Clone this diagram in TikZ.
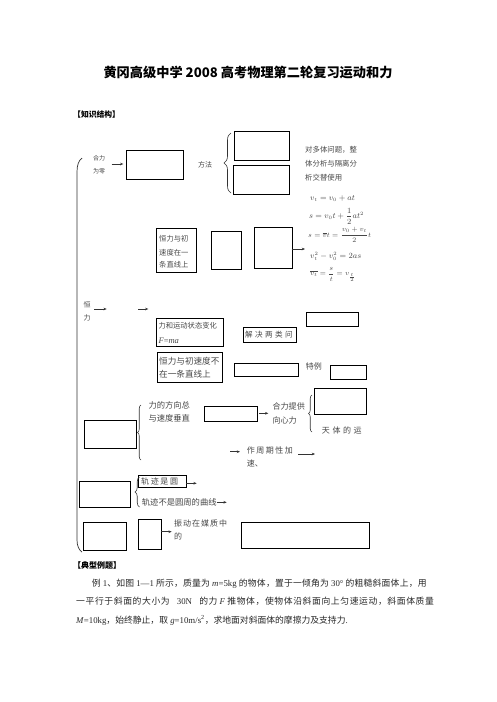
\documentclass[tikz,border=0pt]{standalone}
\usepackage{amsmath}
\usepackage{fontspec}
\setmainfont{Liberation Serif}
\newfontfamily\cjk{Noto Sans CJK SC}
\newfontfamily\cjkw[LetterSpace=7]{Noto Sans CJK SC}
\newfontfamily\cjkv[LetterSpace=2.5]{Noto Sans CJK SC}
\usetikzlibrary{arrows.meta,decorations.pathreplacing}
\newcommand\zh[1]{{\cjk #1}}
\newcommand\zw[1]{{\cjkw #1}}
\newcommand\zv[1]{{\cjkv #1}}
\newcommand\fs[1]{\fontsize{#1}{#1}\selectfont}
\begin{document}
\begin{tikzpicture}[x=1pt,y=-1pt,
  bx/.style={draw, line width=0.7pt, inner sep=0pt},
  txt/.style={anchor=west, inner sep=0pt, text=black!72},
  arr/.style={-{Stealth[length=3.2pt,width=2.6pt]}, line width=0.8pt, black!80},
  brc/.style={decorate, decoration={brace, amplitude=#1}, line width=0.6pt, black!80}]
\useasboundingbox (0,0) rectangle (496,702);

% title
\node[inner sep=0pt, font=\cjk\bfseries\fs{13.2}] (title) at (248,73) {黄冈高级中学 2008 高考物理第二轮复习运动和力};
\node[anchor=west, inner sep=0pt, font=\cjk\bfseries\fs{7.8}] (sec1) at (73,115) {【知识结构】};

% big left bracket
\draw[line width=0.7pt, black!80] (82,158) .. controls (78.5,161) and (77,165) .. (77,172) -- (77,540) .. controls (77,546) and (79,550) .. (82,552);

% boxes
\node[bx, minimum width=57, minimum height=29] (b1) at (154.5,164.5) {};
\node[bx, minimum width=55, minimum height=29] (b2) at (261.5,145.5) {};
\node[bx, minimum width=56, minimum height=29] (b3) at (261,179.5) {};
\node[bx, minimum width=40, minimum height=44] (b4) at (176,250) {};
\node[bx, minimum width=30, minimum height=38] (b5) at (226,250) {};
\node[bx, minimum width=38, minimum height=41] (b6) at (273,247.5) {};
\node[bx, minimum width=67, minimum height=28] (b7) at (189.5,332) {};
\node[bx, minimum width=53, minimum height=15] (b8) at (269.5,334.5) {};
\node[bx, minimum width=52, minimum height=14] (b9) at (332,319) {};
\node[bx, minimum width=65, minimum height=30] (b10) at (189.5,367) {};
\node[bx, minimum width=64, minimum height=13] (b11) at (266,369.5) {};
\node[bx, minimum width=36, minimum height=14] (b12) at (348,372) {};
\node[bx, minimum width=52, minimum height=26] (b13) at (340,401) {};
\node[bx, minimum width=52, minimum height=28] (b14) at (110,434) {};
\node[bx, minimum width=53, minimum height=15] (b15) at (230.5,413.5) {};
\node[bx, minimum width=48, minimum height=12] (b16) at (162,481) {};
\node[bx, minimum width=51, minimum height=26] (b17) at (104.5,494) {};
\node[bx, minimum width=43, minimum height=28] (b18) at (104.5,536) {};
\node[bx, minimum width=23, minimum height=30] (b19) at (149.5,534) {};
\node[bx, minimum width=128, minimum height=26] (b20) at (305,535) {};

% braces
\draw[brc=7pt] (231,193) -- (231,133);
\draw[brc=3.5pt] (141,460) -- (141,405);
\draw[brc=3.5pt] (312,432) -- (312,395);
\draw[brc=4.5pt] (139.5,507) -- (139.5,477);

% texts
\node[txt, font=\cjk\fs{6}] (t1) at (93,158) {合力};
\node[txt, font=\cjk\fs{6}] (t2) at (93,171.7) {为零};
\node[txt, font=\cjk\fs{7}] (t3) at (198,165) {方法};
\node[txt, font=\cjk\fs{7.4}] (t4) at (305,150) {对多体问题，整};
\node[txt, font=\cjk\fs{7.4}] (t5) at (305,164) {体分析与隔离分};
\node[txt, font=\cjk\fs{7.4}] (t6) at (305,177.3) {析交替使用};

\node[txt, font=\fs{7.6}] (f1) at (310,198.3) {$v_t=v_0+at$};
\node[txt, font=\fs{7.6}] (f2) at (309,216.3) {$s=v_0t+\dfrac{1}{2}at^2$};
\node[txt, font=\fs{7.2}] (f3) at (308,235) {$s=\overline{v}t=\dfrac{v_0+v_t}{2}t$};
\node[txt, font=\fs{7.6}] (f4) at (310,256) {$v_t^2-v_0^2=2as$};
\node[txt, font=\fs{7.4}] (f5) at (310,274.5) {$\overline{v_t}=\dfrac{s}{t}=v_{\frac{t}{2}}$};

\node[txt, font=\cjk\fs{7.3}] (t7) at (159,238.3) {恒力与初};
\node[txt, font=\cjk\fs{7.3}] (t8) at (159,252.3) {速度在一};
\node[txt, font=\cjk\fs{7.3}] (t9) at (159,265) {条直线上};

\node[txt, font=\cjk\fs{7}] (t10) at (83.5,305) {恒};
\node[txt, font=\cjk\fs{7}] (t11) at (83.5,318.3) {力};

\node[txt, font=\cjk\fs{7.3}] (t12) at (158.3,326) {力和运动状态变化};
\node[txt, font=\fs{8.5}] (t13) at (158.3,341) {\textit{F}=\textit{ma}};
\node[txt, font=\cjk\fs{7.6}] (t14) at (245,334.5) {解\hspace{2.4pt}决\hspace{2.4pt}两\hspace{2.4pt}类\hspace{2.4pt}问};
\node[txt, font=\cjk\fs{8.6}] (t15) at (159,361.7) {恒力与初速度不};
\node[txt, font=\cjk\fs{8.6}] (t16) at (159,374.3) {在一条直线上};
\node[txt, font=\cjk\fs{8}] (t17) at (305.7,366) {特例};

\node[txt, font=\cjk\fs{8.3}] (t18) at (148.3,405) {力的方向总};
\node[txt, font=\cjk\fs{8.3}] (t19) at (148.3,418.3) {与速度垂直};
\node[txt, font=\cjk\fs{8.1}] (t20) at (272.3,406.7) {合力提供};
\node[txt, font=\cjk\fs{8.1}] (t21) at (272.3,420.7) {向心力};
\node[txt, font=\cjk\fs{8}] (t22) at (321.7,430) {天\hspace{2.6pt}体\hspace{2.6pt}的\hspace{2.6pt}运};
\node[txt, font=\cjk\fs{8}] (t23) at (246.7,450) {作\hspace{1.5pt}周\hspace{1.5pt}期\hspace{1.5pt}性\hspace{1.5pt}加};
\node[txt, font=\cjk\fs{8}] (t24) at (246.7,463.3) {速、};

\node[txt, font=\cjk\fs{8}] (t25) at (141,481) {轨\hspace{1.6pt}迹\hspace{1.6pt}是\hspace{1.6pt}圆};
\node[txt, font=\cjk\fs{8.3}] (t26) at (141.7,502.3) {轨迹不是圆周的曲线};
\node[txt, font=\cjk\fs{8}] (t27) at (174,523.3) {振\hspace{1pt}动\hspace{1pt}在\hspace{1pt}媒\hspace{1pt}质\hspace{1pt}中};
\node[txt, font=\cjk\fs{8}] (t28) at (174,536.7) {的};

% arrows
\coordinate (a1s) at (111.7,164); \coordinate (a1e) at (123.3,164);
\coordinate (a2s) at (291.7,249); \coordinate (a2e) at (305,249);
\coordinate (a3s) at (94.3,309); \coordinate (a3e) at (106.7,309);
\coordinate (a4s) at (138.3,309); \coordinate (a4e) at (148.3,309);
\coordinate (a5s) at (259,413.3); \coordinate (a5e) at (268.3,413.3);
\coordinate (a6s) at (230,451.7); \coordinate (a6e) at (240,451.7);
\coordinate (a7s) at (298.3,454); \coordinate (a7e) at (315,454);
\coordinate (a8s) at (186,483.3); \coordinate (a8e) at (196.7,483.3);
\coordinate (a9s) at (216.7,502.3); \coordinate (a9e) at (226.7,502.3);
\coordinate (a10s) at (161,531.7); \coordinate (a10e) at (171.7,531.7);
\foreach \i in {1,...,10} \draw[arr] (a\i s) -- (a\i e);

% example section
\node[anchor=west, inner sep=0pt, font=\cjk\bfseries\fs{8}] (sec2) at (73,565) {【典型例题】};
\node[anchor=west, inner sep=0pt, font=\fs{8.8}, text=black!85] (p1) at (91.7,583.3)
  {\zv{例} 1\zv{、如图} 1—1 \zv{所示，质量为} \textit{m}=5kg \zv{的物体，置于一倾角为} 30° \zv{的粗糙斜面体上，用}};
\node[anchor=west, inner sep=0pt, font=\fs{8.8}, text=black!85] (p2) at (76,601.7)
  {\zw{一平行于斜面的大小为}\hspace{5pt} 30N \hspace{5pt}\zw{的力} \textit{F} \zw{推物体，使物体沿斜面向上匀速运动，斜面体质量}};
\node[anchor=west, inner sep=0pt, font=\fs{8.8}, text=black!85] (p3) at (76,620)
  {\textit{M}=10kg\zh{，始终静止，取} \textit{g}=10m/s\textsuperscript{2}\zh{，求地面对斜面体的摩擦力及支持力}.};
\end{tikzpicture}
\end{document}
